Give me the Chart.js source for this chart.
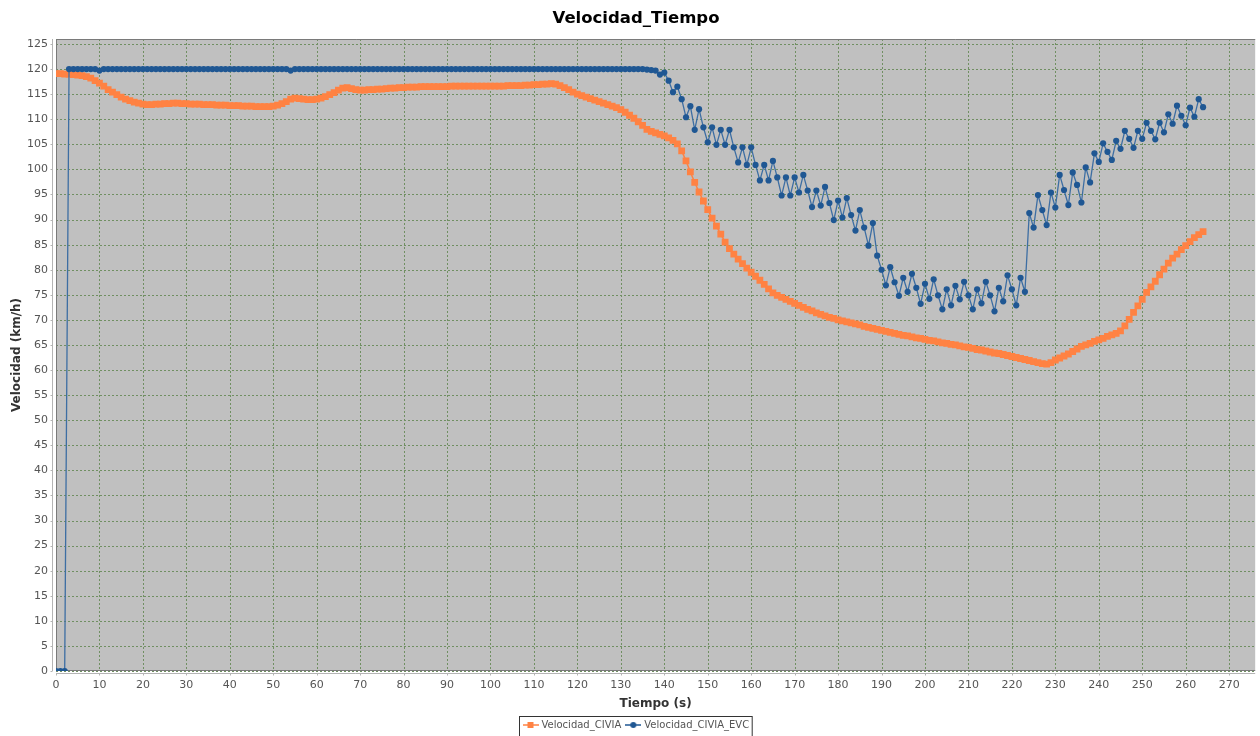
<!DOCTYPE html>
<html>
<head>
<meta charset="utf-8">
<script src="https://cdn.jsdelivr.net/npm/chart.js@4/dist/chart.umd.min.js"></script>
<style>
  html, body { margin: 0; padding: 0; background: #ffffff; }
  #wrap { width: 1260px; height: 736px; position: relative; }
</style>
</head>
<body>
<div id="wrap"><canvas id="c" width="1260" height="736"></canvas></div>
<script>
// ---- DATA ----
const chartTitle = 'Velocidad_Tiempo';
const xTitle = 'Tiempo (s)';
const yTitle = 'Velocidad (km/h)';
const seriesNames = ['Velocidad_CIVIA', 'Velocidad_CIVIA_EVC'];

const tiempo = [
0,1,2,3,4,5,6,7,8,9,10,11,12,13,14,15,16,17,18,19,20,21,22,23,24,25,26,27,28,29,
30,31,32,33,34,35,36,37,38,39,40,41,42,43,44,45,46,47,48,49,50,51,52,53,54,55,56,57,58,59,
60,61,62,63,64,65,66,67,68,69,70,71,72,73,74,75,76,77,78,79,80,81,82,83,84,85,86,87,88,89,
90,91,92,93,94,95,96,97,98,99,100,101,102,103,104,105,106,107,108,109,110,111,112,113,114,115,116,117,118,119,
120,121,122,123,124,125,126,127,128,129,130,131,132,133,134,135,136,137,138,139,140,141,142,143,144,145,146,147,148,149,
150,151,152,153,154,155,156,157,158,159,160,161,162,163,164,165,166,167,168,169,170,171,172,173,174,175,176,177,178,179,
180,181,182,183,184,185,186,187,188,189,190,191,192,193,194,195,196,197,198,199,200,201,202,203,204,205,206,207,208,209,
210,211,212,213,214,215,216,217,218,219,220,221,222,223,224,225,226,227,228,229,230,231,232,233,234,235,236,237,238,239,
240,241,242,243,244,245,246,247,248,249,250,251,252,253,254,255,256,257,258,259,260,261,262,263,264
];

const velocidadCIVIA = [
119.1,119.1,119.0,119.0,118.9,118.8,118.7,118.5,118.2,117.7,117.2,116.6,115.9,115.4,114.9,114.4,114.0,113.7,113.4,113.2,
113.0,112.9,112.9,113.0,113.0,113.1,113.1,113.2,113.2,113.1,113.1,113.0,113.0,113.0,112.9,112.9,112.9,112.8,112.8,112.8,
112.7,112.7,112.7,112.6,112.6,112.6,112.5,112.5,112.5,112.5,112.6,112.8,113.1,113.5,114.0,114.2,114.1,114.0,113.9,113.9,
114.0,114.2,114.5,114.9,115.3,115.8,116.2,116.3,116.1,115.9,115.8,115.8,115.9,115.9,116.0,116.0,116.1,116.2,116.2,116.3,
116.3,116.4,116.4,116.4,116.5,116.5,116.5,116.5,116.5,116.5,116.5,116.6,116.6,116.6,116.6,116.6,116.6,116.6,116.6,116.6,
116.6,116.6,116.6,116.6,116.7,116.7,116.7,116.7,116.8,116.8,116.9,116.9,117.0,117.0,117.1,117.0,116.7,116.3,115.9,115.4,
115.0,114.7,114.4,114.1,113.8,113.5,113.2,112.9,112.6,112.3,111.9,111.4,110.8,110.2,109.5,108.8,108.0,107.6,107.3,107.0,
106.7,106.3,105.8,105.1,103.7,101.7,99.5,97.4,95.5,93.7,92.0,90.3,88.7,87.1,85.5,84.2,83.1,82.1,81.2,80.3,
79.5,78.7,77.9,77.1,76.2,75.4,74.9,74.5,74.1,73.7,73.3,72.9,72.5,72.1,71.8,71.4,71.1,70.8,70.5,70.3,
70.0,69.8,69.6,69.4,69.2,69.0,68.7,68.5,68.3,68.1,67.9,67.7,67.5,67.3,67.1,66.9,66.8,66.6,66.4,66.3,
66.1,65.9,65.8,65.6,65.4,65.3,65.1,65.0,64.8,64.6,64.5,64.3,64.1,64.0,63.8,63.6,63.4,63.3,63.1,62.9,
62.7,62.5,62.3,62.1,61.9,61.7,61.5,61.3,61.2,61.5,62.0,62.4,62.8,63.2,63.7,64.2,64.7,65.0,65.3,65.7,
66.0,66.3,66.7,67.0,67.3,67.8,68.8,70.1,71.5,72.8,74.1,75.5,76.6,77.7,79.0,80.1,81.3,82.3,83.1,84.0,
84.8,85.6,86.4,87.0,87.6
];

const velocidadCIVIA_EVC = [
0,0,0,120,120,120,120,120,120,120,119.7,120,120,120,120,120,120,120,120,120,
120,120,120,120,120,120,120,120,120,120,120,120,120,120,120,120,120,120,120,120,
120,120,120,120,120,120,120,120,120,120,120,120,120,120,119.7,120,120,120,120,120,
120,120,120,120,120,120,120,120,120,120,120,120,120,120,120,120,120,120,120,120,
120,120,120,120,120,120,120,120,120,120,120,120,120,120,120,120,120,120,120,120,
120,120,120,120,120,120,120,120,120,120,120,120,120,120,120,120,120,120,120,120,
120,120,120,120,120,120,120,120,120,120,120,120,120,120,120,120,119.9,119.8,119.7,118.9,
119.3,117.7,115.4,116.5,114.0,110.4,112.6,107.9,112.0,108.4,105.4,108.4,104.9,107.9,104.9,107.9,104.4,101.4,104.4,100.9,
104.4,100.9,97.8,100.9,97.8,101.7,98.4,94.8,98.4,94.8,98.4,95.4,98.9,95.8,92.5,95.8,92.8,96.5,93.3,89.9,
93.8,90.4,94.3,90.9,87.8,91.9,88.4,84.8,89.3,82.8,80.0,76.9,80.5,77.5,74.8,78.4,75.6,79.2,76.4,73.2,
77.2,74.2,78.1,74.9,72.1,76.1,72.9,76.8,74.1,77.6,74.9,72.1,76.1,73.3,77.6,74.9,71.7,76.4,73.7,78.9,
76.1,72.9,78.4,75.6,91.3,88.4,94.9,91.9,88.9,95.4,92.4,98.9,95.9,92.9,99.4,96.9,93.4,100.4,97.4,103.2,
101.5,105.2,103.5,101.9,105.7,104.1,107.7,106.1,104.3,107.7,106.1,109.3,107.7,106.0,109.3,107.4,111.0,109.1,112.7,110.7,
108.8,112.3,110.5,114.0,112.4
];

const xMin = 0, xMax = 276, xStep = 10;
const yMin = 0, yMax = 126, yStep = 5;

// ---- STYLE ----
const FONT = "'DejaVu Sans', sans-serif";
const orange = '#FF8243';
const blue = '#1F5793';
const gridColor = '#708F62';

function makeLegendIcon(kind, color) {
  const c = document.createElement('canvas');
  c.width = 16; c.height = 8;
  const g = c.getContext('2d');
  g.strokeStyle = color; g.lineWidth = 1.5;
  g.beginPath(); g.moveTo(0, 4); g.lineTo(16, 4); g.stroke();
  g.fillStyle = color;
  if (kind === 'rect') { g.fillRect(5, 1, 6, 6); }
  else { g.beginPath(); g.arc(8, 4, 3, 0, Math.PI * 2); g.fill(); }
  return c;
}

const framePlugin = {
  id: 'framePlugin',
  beforeDraw(chart) {
    const {ctx, chartArea: a} = chart;
    ctx.save();
    ctx.fillStyle = '#C0C0C0';
    ctx.fillRect(a.left, a.top, a.right - a.left, a.bottom - a.top);
    ctx.restore();
  },
  beforeDatasetsDraw(chart) {
    const {ctx, chartArea: a, scales} = chart;
    ctx.save();
    // dashed grid lines at major ticks
    ctx.strokeStyle = gridColor;
    ctx.lineWidth = 1;
    ctx.setLineDash([2, 2]);
    ctx.beginPath();
    scales.x.ticks.forEach(t => {
      const x = Math.round(scales.x.getPixelForValue(t.value)) + 0.5;
      ctx.moveTo(x, a.top); ctx.lineTo(x, a.bottom);
    });
    scales.y.ticks.forEach(t => {
      const y = Math.round(scales.y.getPixelForValue(t.value)) + 0.5;
      ctx.moveTo(a.left, y); ctx.lineTo(a.right, y);
    });
    ctx.stroke();
    ctx.setLineDash([]);
    // plot outline
    ctx.strokeStyle = '#7a7a7a';
    ctx.beginPath();
    ctx.moveTo(a.left + 0.5, a.bottom + 0.5);
    ctx.lineTo(a.left + 0.5, a.top + 0.5);
    ctx.lineTo(a.right, a.top + 0.5);
    ctx.moveTo(a.left, a.bottom - 0.5);
    ctx.lineTo(a.right, a.bottom - 0.5);
    ctx.stroke();
    // offset axis lines
    ctx.strokeStyle = '#b4b4b4';
    ctx.beginPath();
    ctx.moveTo(a.left - 3.5, a.top);
    ctx.lineTo(a.left - 3.5, a.bottom);
    ctx.moveTo(a.left, a.bottom + 2.5);
    ctx.lineTo(a.right, a.bottom + 2.5);
    scales.y.ticks.forEach(t => {
      const y = Math.round(scales.y.getPixelForValue(t.value)) + 0.5;
      ctx.moveTo(a.left - 5.5, y); ctx.lineTo(a.left - 3.5, y);
    });
    scales.x.ticks.forEach(t => {
      const x = Math.round(scales.x.getPixelForValue(t.value)) + 0.5;
      ctx.moveTo(x, a.bottom + 2.5); ctx.lineTo(x, a.bottom + 4.5);
    });
    ctx.stroke();
    ctx.restore();
  },
  afterDraw(chart) {
    const {ctx} = chart;
    ctx.save();
    // title
    ctx.fillStyle = '#000';
    ctx.font = "bold 16.5px " + FONT;
    ctx.textAlign = 'center';
    ctx.textBaseline = 'middle';
    ctx.fillText(chartTitle, 636, 19);
    // legend
    ctx.font = "10px " + FONT;
    const cy = 725;
    const w1 = ctx.measureText(seriesNames[0]).width;
    const w2 = ctx.measureText(seriesNames[1]).width;
    const total = 3 + 16 + 3 + w1 + 4 + 16 + 3 + w2 + 3;
    const left = Math.round(635 - total / 2) + 0.5;
    ctx.strokeStyle = '#333';
    ctx.lineWidth = 1;
    ctx.strokeRect(left, 716.5, total, 30);
    let x = left + 3;
    ctx.drawImage(makeLegendIcon('rect', orange), x, cy - 4);
    x += 19;
    ctx.fillStyle = '#555';
    ctx.textAlign = 'left';
    ctx.fillText(seriesNames[0], x, cy);
    x += w1 + 4;
    ctx.drawImage(makeLegendIcon('circle', blue), x, cy - 4);
    x += 19;
    ctx.fillText(seriesNames[1], x, cy);
    ctx.restore();
  }
};

const ptsA = tiempo.map((t, i) => ({x: t, y: velocidadCIVIA[i]}));
const ptsB = tiempo.map((t, i) => ({x: t, y: velocidadCIVIA_EVC[i]}));

new Chart(document.getElementById('c'), {
  type: 'line',
  data: {
    datasets: [
      {
        label: seriesNames[0], data: ptsA,
        borderColor: orange, backgroundColor: orange, borderWidth: 1.5,
        pointStyle: 'rect', pointRadius: 4.8, pointBorderWidth: 0,
        pointBackgroundColor: orange, tension: 0, order: 2
      },
      {
        label: seriesNames[1], data: ptsB,
        borderColor: '#3D6EA3', backgroundColor: blue, borderWidth: 1.3,
        pointStyle: 'circle', pointRadius: 3.1, pointBorderWidth: 0,
        pointBackgroundColor: blue, tension: 0, order: 1
      }
    ]
  },
  options: {
    responsive: false,
    animation: false,
    events: [],
    layout: { padding: { top: 39, left: 0, right: 0, bottom: 0 } },
    plugins: {
      legend: { display: false },
      title: { display: false },
      tooltip: { enabled: false }
    },
    scales: {
      x: {
        type: 'linear', min: xMin, max: xMax,
        ticks: { stepSize: xStep, includeBounds: false, color: '#555', padding: 8,
                 font: { family: FONT, size: 11 }, maxRotation: 0 },
        grid: { display: false, drawTicks: false },
        border: { display: false },
        title: { display: true, text: xTitle, color: '#333',
                 font: { family: FONT, size: 12, weight: 'bold' },
                 padding: { top: 0, bottom: 25 } },
        afterFit(scale) { scale.height = 65; }
      },
      y: {
        type: 'linear', min: yMin, max: yMax,
        ticks: { stepSize: yStep, includeBounds: false, color: '#555', padding: 8,
                 font: { family: FONT, size: 11 } },
        grid: { display: false, drawTicks: false },
        border: { display: false },
        title: { display: true, text: yTitle, color: '#333',
                 font: { family: FONT, size: 12, weight: 'bold' },
                 padding: { top: 10, bottom: 0 } },
        afterFit(scale) { scale.width = 56; }
      }
    }
  },
  plugins: [framePlugin]
});
</script>
</body>
</html>
